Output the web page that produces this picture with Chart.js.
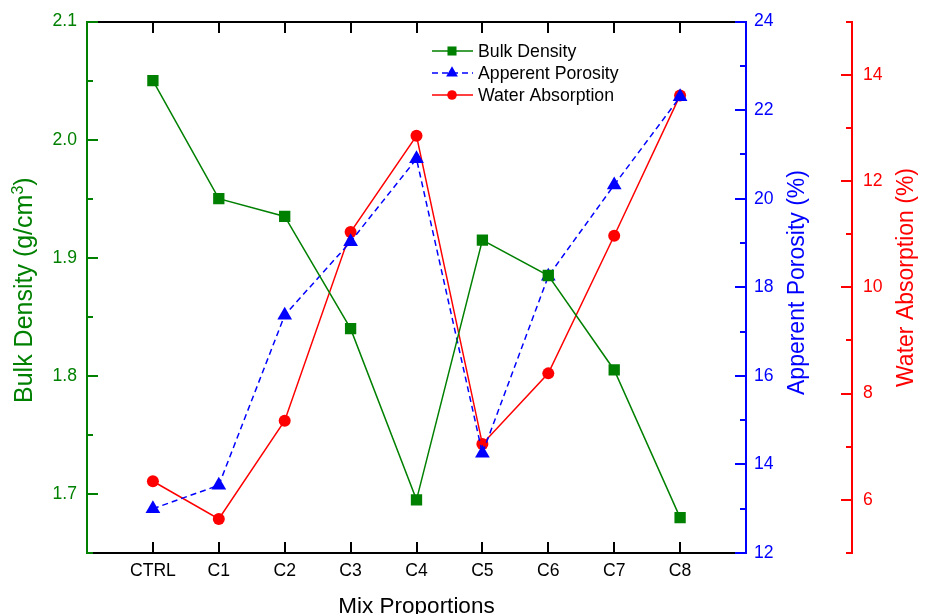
<!DOCTYPE html>
<html>
<head>
<meta charset="utf-8">
<script src="https://cdn.jsdelivr.net/npm/chart.js@4.4.1/dist/chart.umd.min.js"></script>
<style>
  html, body { margin: 0; padding: 0; background: #fff; }
</style>
</head>
<body>
<canvas id="mix_chart" width="927" height="614"></canvas>
<script>
// values
const mixes = ['CTRL', 'C1', 'C2', 'C3', 'C4', 'C5', 'C6', 'C7', 'C8'];
const bulk_density = [2.05, 1.95, 1.935, 1.84, 1.695, 1.915, 1.885, 1.805, 1.68];
const apparent_porosity = [13.0, 13.53, 17.37, 19.03, 20.9, 14.25, 18.25, 20.31, 22.3];
const water_absorption = [6.35, 5.64, 7.49, 11.04, 12.85, 7.05, 8.38, 10.97, 13.61];

const density_ticks = [1.7, 1.8, 1.9, 2.0, 2.1];
const porosity_ticks = [12, 14, 16, 18, 20, 22, 24];
const absorption_ticks = [6, 8, 10, 12, 14];

const GREEN = '#008000', BLUE = '#0000FF', RED = '#FF0000';
const FONT = '"Liberation Sans", Arial, sans-serif';

const ctx = document.getElementById('mix_chart').getContext('2d');

function toPoints(arr) {
	return arr.map((v, i) => ({ x: i, y: v }));
}

// small helpers for the custom drawing
function strokeSeg(c, x1, y1, x2, y2) {
	c.beginPath();
	c.moveTo(x1, y1);
	c.lineTo(x2, y2);
	c.stroke();
}

function marker(c, style, x, y, r) {
	c.beginPath();
	if (style == 'rect') {
		const s = Math.SQRT1_2 * r;
		c.rect(x - s, y - s, 2 * s, 2 * s);
	} else if (style == 'triangle') {
		const w = r * 0.866;
		c.moveTo(x, y - r);
		c.lineTo(x + w, y + r / 2);
		c.lineTo(x - w, y + r / 2);
		c.closePath();
	} else {
		c.arc(x, y, r, 0, Math.PI * 2);
	}
	c.fill();
}

// inward ticks (major + minor) on one y scale
function yTicks(c, scale, values, x0, dir, color) {
	c.fillStyle = color;
	const step = values[1] - values[0];
	const tick = (v, len) => {
		const py = Math.round(scale.getPixelForValue(v));
		const xs = dir > 0 ? x0 : x0 - len;
		c.fillRect(xs, py - 1, len, 2);
	};
	values.forEach(v => tick(v, 11));
	const minors = values.map(v => v - step / 2).concat([values[values.length - 1] + step / 2]);
	minors.forEach(v => {
		if (v < scale.min - 1e-9 || v > scale.max + 1e-9) return;
		tick(v, 6);
	});
}

function rotatedTitle(c, parts, x, yStart) {
	// parts: [text, size, raise]
	c.save();
	c.translate(x, yStart);
	c.rotate(-Math.PI / 2);
	c.textAlign = 'left';
	c.textBaseline = 'alphabetic';
	let pos = 0;
	parts.forEach(p => {
		c.font = p[1] + 'px ' + FONT;
		c.fillText(p[0], pos, -p[2]);
		pos += c.measureText(p[0]).width;
	});
	c.restore();
}

const decor_plugin = {
	id: 'decor',
	afterDraw(chart) {
		const c = chart.ctx;
		const area = chart.chartArea;
		const sx = chart.scales.x;
		c.save();

		// category ticks on bottom and top, pointing inward
		c.fillStyle = '#000000';
		for (let i = 0; i < mixes.length; i++) {
			const px = Math.round(sx.getPixelForValue(i));
			c.fillRect(px - 1, Math.round(area.bottom) - 11, 2, 11);
			c.fillRect(px - 1, Math.round(area.top), 2, 11);
		}

		yTicks(c, chart.scales.y, density_ticks, Math.round(area.left), 1, GREEN);
		yTicks(c, chart.scales.y1, porosity_ticks, Math.round(area.right), -1, BLUE);
		yTicks(c, chart.scales.y2, absorption_ticks, Math.round(chart.scales.y2.left), -1, RED);

		// axis titles
		c.fillStyle = GREEN;
		rotatedTitle(c, [['Bulk Density (g/cm', 25, 0], ['3', 16, 9], [')', 25, 0]], 32, 403);
		c.fillStyle = BLUE;
		rotatedTitle(c, [['Apperent Porosity (%)', 23, 0]], 804, 395);
		c.fillStyle = RED;
		rotatedTitle(c, [['Water Absorption (%)', 23, 0]], 913, 387);

		c.fillStyle = '#000';
		c.font = '22.5px ' + FONT;
		c.textAlign = 'center';
		c.textBaseline = 'alphabetic';
		c.fillText('Mix Proportions', (area.left + area.right) / 2, 613);

		// legend inside the plot
		c.font = '17.7px ' + FONT;
		c.textAlign = 'left';
		c.textBaseline = 'middle';
		chart.data.datasets.forEach((ds, k) => {
			const ry = 51 + k * 22;
			c.strokeStyle = ds.borderColor;
			c.fillStyle = ds.borderColor;
			c.lineWidth = 1.5;
			c.setLineDash(ds.borderDash || []);
			strokeSeg(c, 432, ry, 473, ry);
			c.setLineDash([]);
			marker(c, ds.pointStyle, 452, ry, ds.pointRadius * 0.8);
			c.fillStyle = '#000';
			c.fillText(ds.label, 478, ry + 1);
		});
		c.restore();
	}
};

function fixWidth(w) {
	return scale => { scale.width = w; };
}
function fixHeight(h) {
	return scale => { scale.height = h; };
}

const noGrid = { display: false, drawTicks: false };

const my_chart = new Chart(ctx, {
	type: 'line',
	data: {
		datasets: [{
			label: 'Bulk Density',
			data: toPoints(bulk_density),
			yAxisID: 'y',
			borderColor: GREEN,
			backgroundColor: GREEN,
			borderWidth: 1.5,
			pointStyle: 'rect',
			pointRadius: 8,
			pointBorderWidth: 0
		}, {
			label: 'Apperent Porosity',
			data: toPoints(apparent_porosity),
			yAxisID: 'y1',
			borderColor: BLUE,
			backgroundColor: BLUE,
			borderWidth: 1.5,
			borderDash: [6, 4],
			pointStyle: 'triangle',
			pointRadius: 8.5,
			pointBorderWidth: 0
		}, {
			label: 'Water Absorption',
			data: toPoints(water_absorption),
			yAxisID: 'y2',
			borderColor: RED,
			backgroundColor: RED,
			borderWidth: 1.5,
			pointStyle: 'circle',
			pointRadius: 6,
			pointBorderWidth: 0
		}]
	},
	options: {
		responsive: false,
		animation: false,
		layout: { padding: 0 },
		plugins: {
			legend: { display: false },
			tooltip: { enabled: false }
		},
		scales: {
			x: {
				type: 'linear',
				position: 'bottom',
				min: -1,
				max: 9,
				afterBuildTicks: s => { s.ticks = mixes.map((m, i) => ({ value: i })); },
				afterFit: fixHeight(61),
				ticks: {
					callback: v => mixes[v],
					color: '#000',
					font: { family: FONT, size: 17.6 },
					padding: 8,
					autoSkip: false,
					maxRotation: 0
				},
				grid: noGrid,
				border: { color: '#000', width: 2 }
			},
			xTop: {
				type: 'linear',
				position: 'top',
				min: -1,
				max: 9,
				afterFit: fixHeight(19),
				ticks: { display: false },
				grid: noGrid,
				border: { color: '#000', width: 2 }
			},
			y: {
				position: 'left',
				min: 1.65,
				max: 2.1,
				afterBuildTicks: s => { s.ticks = density_ticks.map(v => ({ value: v })); },
				afterFit: fixWidth(87),
				ticks: {
					callback: v => v.toFixed(1),
					color: GREEN,
					font: { family: FONT, size: 17.6 },
					padding: 10
				},
				grid: noGrid,
				border: { color: GREEN, width: 2 }
			},
			y1: {
				position: 'right',
				weight: 0,
				min: 12,
				max: 24,
				afterBuildTicks: s => { s.ticks = porosity_ticks.map(v => ({ value: v })); },
				afterFit: fixWidth(106),
				ticks: {
					color: BLUE,
					font: { family: FONT, size: 17.6 },
					padding: 8
				},
				grid: noGrid,
				border: { color: BLUE, width: 2 }
			},
			y2: {
				position: 'right',
				weight: 1,
				min: 5,
				max: 15,
				afterBuildTicks: s => { s.ticks = absorption_ticks.map(v => ({ value: v })); },
				afterFit: fixWidth(75),
				ticks: {
					color: RED,
					font: { family: FONT, size: 17.6 },
					padding: 11
				},
				grid: noGrid,
				border: { color: RED, width: 2 }
			}
		}
	},
	plugins: [decor_plugin]
});
</script>
</body>
</html>
